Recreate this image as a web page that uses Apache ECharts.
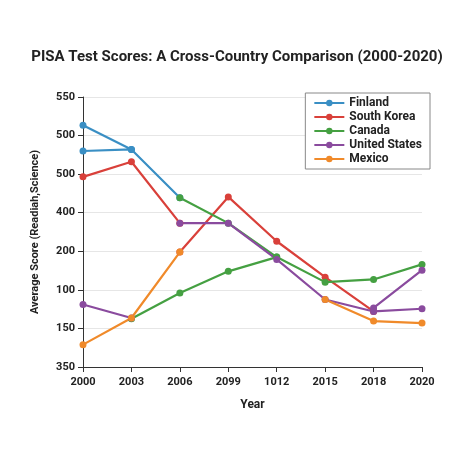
<!DOCTYPE html><html><head><meta charset="utf-8"><script src="https://cdn.jsdelivr.net/npm/echarts@6/dist/echarts.min.js"></script></head><body style="margin:0"><div id="c" style="width:474px;height:474px"></div><script>
var xLabels=["2000","2003","2006","2099","1012","2015","2018","2020"];
var yLabels=["350","150","100","200","400","500","500","550"];
var finland=[[0,5.60],[1,5.64],[0,6.27],[1,5.64],[2,4.39]];
var southKorea=[[0,4.93],[1,5.32],[2,3.73],'-',[2,2.98],[3,4.41],[4,3.26],[5,2.33],[6,1.44]];
var canada=[[1,1.25],[2,1.92],[3,2.48],[4,2.85],[5,2.20],[6,2.27],[7,2.66],'-',[2,4.39],[3,3.73],[4,2.85]];
var usa=[[0,1.62],[1,1.27],'-',[2,3.73],[3,3.73],[4,2.79],[5,1.75],[6,1.44],[7,1.51],'-',[6,1.53],[7,2.51]];
var mexico=[[0,0.58],[1,1.27],[2,2.98],'-',[5,1.75],[6,1.19],[7,1.14]];
var names=["Finland","South Korea","Canada","United States","Mexico"];
var colors=["#3a8fc4","#d9403a","#45a042","#8a4b9e","#f08a2a"];
var data=[finland,southKorea,canada,usa,mexico];
var ch=echarts.init(document.getElementById('c'));
var f={fontFamily:'Roboto',fontWeight:'bold',color:'#222',fontSize:11};
ch.setOption({
title:{text:'PISA Test Scores: A Cross-Country Comparison (2000-2020)',left:'center',top:45,textStyle:{fontFamily:'Roboto',fontWeight:'bold',fontSize:15,color:'#222'}},
legend:{orient:'vertical',right:44,top:93,backgroundColor:'#fff',borderColor:'#888',borderWidth:1,padding:[4,8],itemGap:2,itemWidth:30,itemHeight:8,textStyle:Object.assign({},f,{fontSize:12}),data:names},
grid:{left:83,right:52,top:97,bottom:107},
xAxis:{type:'value',min:0,max:7,interval:1,axisLabel:Object.assign({formatter:function(v){return xLabels[v]},margin:10},f),axisLine:{lineStyle:{color:'#333'}},axisTick:{show:true,lineStyle:{color:'#333'}},splitLine:{show:false},name:'Year',nameLocation:'middle',nameGap:32,nameTextStyle:Object.assign({},f,{fontSize:12})},
yAxis:{type:'value',min:0,max:7,interval:1,axisLabel:Object.assign({formatter:function(v){return yLabels[v]}},f),axisLine:{show:true,lineStyle:{color:'#333'}},axisTick:{show:true,lineStyle:{color:'#333'}},splitLine:{lineStyle:{color:'#e6e6e6'}},name:'Average Score (Readiah,Science)',nameLocation:'middle',nameGap:42,nameTextStyle:f},
series:names.map(function(n,i){return {name:n,type:'line',data:data[i],color:colors[i],symbol:'circle',symbolSize:7,lineStyle:{width:2.2},connectNulls:false}})
});
</script></body></html>
